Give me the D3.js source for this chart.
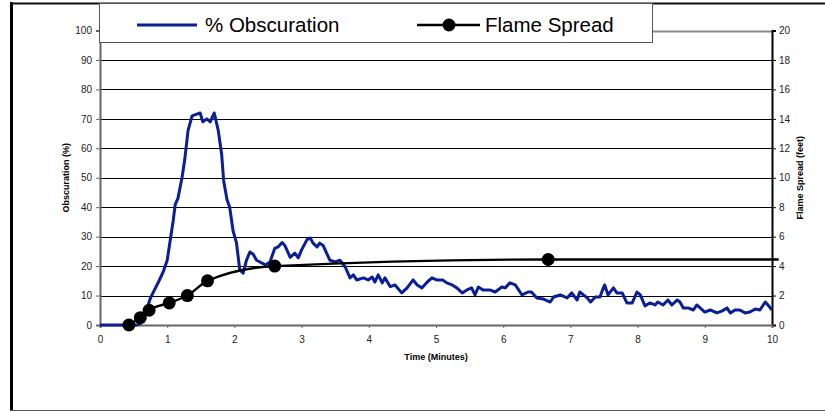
<!DOCTYPE html>
<html>
<head>
<meta charset="utf-8">
<script src="https://cdn.jsdelivr.net/npm/d3@7"></script>
<style>
  html, body { margin: 0; padding: 0; background: #fff; }
  svg { display: block; font-family: Arial, "Liberation Sans", sans-serif; }
</style>
</head>
<body>
<div id="chart"></div>
<script>
// ----- data -----
const obsTime = [0, 0.3, 0.55, 0.6, 0.68, 0.74, 0.79, 0.87, 0.94, 1.0, 1.04, 1.09, 1.12, 1.16, 1.22, 1.26, 1.31, 1.37,
  1.44, 1.49, 1.53, 1.59, 1.64, 1.70, 1.76, 1.81, 1.84, 1.89, 1.93, 1.98, 2.03, 2.08, 2.13, 2.18, 2.23, 2.28, 2.33,
  2.38, 2.46, 2.53, 2.6, 2.65, 2.71, 2.75, 2.83, 2.9, 2.95, 3.0, 3.08, 3.13, 3.17, 3.23, 3.27, 3.32, 3.42, 3.5, 3.57,
  3.65, 3.72, 3.77, 3.82, 3.92, 3.99, 4.05, 4.09, 4.14, 4.2, 4.24, 4.32, 4.39, 4.49, 4.57, 4.66, 4.72, 4.79, 4.87,
  4.94, 5.01, 5.1, 5.16, 5.24, 5.31, 5.39, 5.46, 5.53, 5.58, 5.63, 5.7, 5.8, 5.88, 5.98, 6.03, 6.1, 6.18, 6.28, 6.37,
  6.42, 6.5, 6.6, 6.7, 6.75, 6.85, 6.95, 7.02, 7.1, 7.14, 7.25, 7.3, 7.37, 7.44, 7.49, 7.51, 7.56, 7.64, 7.69, 7.77,
  7.84, 7.92, 7.99, 8.04, 8.11, 8.18, 8.26, 8.3, 8.38, 8.45, 8.51, 8.59, 8.63, 8.68, 8.75, 8.83, 8.88, 8.93, 9.0,
  9.08, 9.18, 9.26, 9.33, 9.38, 9.45, 9.52, 9.6, 9.67, 9.75, 9.82, 9.9, 9.94, 10.0];
const obsValue = [0, 0, 0, 0.5, 4, 8.5, 11, 14.6, 18, 22, 28, 35.6, 41, 43, 50, 56, 66, 71,
  71.6, 72, 69, 70, 69, 72, 66, 58, 49, 42.5, 40, 32, 28, 18.7, 17.6, 22, 24.8, 24, 22,
  21.4, 20.4, 21.4, 26, 26.5, 28, 27, 23, 24.4, 22.8, 25.5, 29, 29.5, 27.8, 26.5, 27.8, 27, 22, 21.4, 22,
  19.7, 16, 17, 15.3, 16, 15.3, 16.3, 14.6, 17, 14.3, 16, 13, 13.6, 10.9, 12.6, 15.3, 13.6, 12.6, 14.6,
  16, 15.3, 15.3, 14.3, 13.6, 12.6, 10.9, 11.9, 12.6, 10.2, 12.9, 11.9, 11.9, 11.2, 12.9, 12.6, 14.3, 13.6, 10.2, 11.2,
  11.2, 9.2, 8.8, 7.8, 9.5, 10.2, 9.2, 10.9, 8.5, 11.2, 9.2, 7.8, 9.5, 9.5, 12.6, 13.6, 10.2, 12.6, 10.9, 10.9,
  7.5, 7.5, 11.2, 10.2, 6.5, 7.5, 6.8, 7.8, 6.8, 8.5, 6.8, 8.5, 7.8, 5.8, 5.8, 5.1, 6.8, 5.8, 4.4,
  5.1, 4.1, 4.8, 5.8, 4.1, 5.1, 5.1, 4.1, 4.4, 5.4, 5.1, 7.8, 6.8, 5.1];

const flameTime = [0.43, 0.6, 0.73, 1.03, 1.3, 1.6, 2.6, 6.67, 10.1];
const flameFeet = [0, 0.5, 1, 1.5, 2, 3, 4, 4.45, 4.45];
const flameMarked = [true, true, true, true, true, true, true, true, false];

const xTicks = [0, 1, 2, 3, 4, 5, 6, 7, 8, 9, 10];
const yLeftTicks = [0, 10, 20, 30, 40, 50, 60, 70, 80, 90, 100];
const yRightTicks = [0, 2, 4, 6, 8, 10, 12, 14, 16, 18, 20];

// ----- layout -----
const width = 825, height = 412;
const plot = {left: 100, right: 772, top: 30.5, bottom: 325};

const svg = d3.select("#chart").append("svg")
  .attr("width", width)
  .attr("height", height);

const x = d3.scaleLinear().domain([0, 10]).range([plot.left, plot.right]);
const yL = d3.scaleLinear().domain([0, 100]).range([plot.bottom, plot.top]);
const yR = d3.scaleLinear().domain([0, 20]).range([plot.bottom, plot.top]);

// outer frame
svg.append("line").attr("x1", 11.5).attr("x2", 11.5).attr("y1", 2).attr("y2", 411)
  .attr("stroke", "#000").attr("stroke-width", 3);
svg.append("line").attr("x1", 10).attr("x2", width).attr("y1", 3.5).attr("y2", 3.5)
  .attr("stroke", "#111").attr("stroke-width", 2);
svg.append("line").attr("x1", 10).attr("x2", width).attr("y1", 410.5).attr("y2", 410.5)
  .attr("stroke", "#555").attr("stroke-width", 1);

// gridlines
svg.append("g")
  .selectAll("line")
  .data(yLeftTicks.filter(d => d > 0 && d < 100))
  .join("line")
  .attr("x1", plot.left).attr("x2", plot.right)
  .attr("y1", d => Math.round(yL(d)) + 0.5)
  .attr("y2", d => Math.round(yL(d)) + 0.5)
  .attr("stroke", "#000")
  .attr("stroke-width", 1);

// top border of plot area
svg.append("line")
  .attr("x1", plot.left).attr("x2", plot.right)
  .attr("y1", Math.round(yL(100)) + 0.5).attr("y2", Math.round(yL(100)) + 0.5)
  .attr("stroke", "#888").attr("stroke-width", 2);

// left axis
const leftAxis = svg.append("g")
  .attr("transform", `translate(${plot.left},0)`)
  .call(d3.axisLeft(yL).tickValues(yLeftTicks).tickSize(4).tickPadding(4));
leftAxis.select(".domain").attr("stroke", "#666").attr("stroke-width", 2);
leftAxis.selectAll(".tick line").attr("stroke", "#666");

// right axis
const rightAxis = svg.append("g")
  .attr("transform", `translate(${plot.right},0)`)
  .call(d3.axisRight(yR).tickValues(yRightTicks).tickSize(4).tickPadding(3));
rightAxis.select(".domain").attr("stroke", "#000").attr("stroke-width", 2);

// bottom axis
const bottomAxis = svg.append("g")
  .attr("transform", `translate(0,${plot.bottom})`)
  .call(d3.axisBottom(x).tickValues(xTicks).tickSize(3).tickPadding(8));
bottomAxis.select(".domain").attr("stroke", "#666").attr("stroke-width", 2);
bottomAxis.selectAll(".tick line").attr("stroke", "#666");

svg.selectAll(".tick text")
  .attr("font-family", "Arial, 'Liberation Sans', sans-serif")
  .attr("font-size", 10)
  .attr("fill", "#222");

// axis titles
svg.append("text")
  .attr("transform", `translate(69,${(plot.top + plot.bottom) / 2}) rotate(-90)`)
  .attr("text-anchor", "middle")
  .attr("font-size", 9)
  .attr("font-weight", "bold")
  .text("Obscuration (%)");

svg.append("text")
  .attr("transform", `translate(803,${(plot.top + plot.bottom) / 2}) rotate(-90)`)
  .attr("text-anchor", "middle")
  .attr("font-size", 9)
  .attr("font-weight", "bold")
  .text("Flame Spread (feet)");

svg.append("text")
  .attr("x", (plot.left + plot.right) / 2)
  .attr("y", 360)
  .attr("text-anchor", "middle")
  .attr("font-size", 9)
  .attr("font-weight", "bold")
  .text("Time (Minutes)");

// obscuration series
const obsData = obsTime.map((t, i) => ({t, v: obsValue[i]}));
svg.append("path")
  .datum(obsData)
  .attr("fill", "none")
  .attr("stroke", "#0a1e96")
  .attr("stroke-width", 3)
  .attr("stroke-linejoin", "round")
  .attr("d", d3.line().x(d => x(d.t)).y(d => yL(d.v)));

// flame spread series
const flameData = flameTime.map((t, i) => ({t, v: flameFeet[i], m: flameMarked[i]}));
svg.append("path")
  .datum(flameData)
  .attr("fill", "none")
  .attr("stroke", "#000")
  .attr("stroke-width", 2.4)
  .attr("d", d3.line().curve(d3.curveMonotoneX).x(d => x(d.t)).y(d => yR(d.v)));

svg.append("g")
  .selectAll("circle")
  .data(flameData.filter(d => d.m))
  .join("circle")
  .attr("cx", d => x(d.t))
  .attr("cy", d => yR(d.v))
  .attr("r", 6.5)
  .attr("fill", "#000");

// legend
const legend = svg.append("g");
legend.append("rect")
  .attr("x", 99.5).attr("y", 3.5)
  .attr("width", 553).attr("height", 39)
  .attr("fill", "#fff")
  .attr("stroke", "#555")
  .attr("stroke-width", 1);

legend.append("line")
  .attr("x1", 137).attr("x2", 197).attr("y1", 25).attr("y2", 25)
  .attr("stroke", "#0a1e96").attr("stroke-width", 3);
legend.append("text")
  .attr("x", 205).attr("y", 32)
  .attr("font-size", 20.5)
  .text("% Obscuration");

legend.append("line")
  .attr("x1", 417).attr("x2", 480).attr("y1", 25).attr("y2", 25)
  .attr("stroke", "#000").attr("stroke-width", 2.4);
legend.append("circle")
  .attr("cx", 449).attr("cy", 25).attr("r", 6.5).attr("fill", "#000");
legend.append("text")
  .attr("x", 485).attr("y", 32)
  .attr("font-size", 20.5)
  .text("Flame Spread");
</script>
</body>
</html>
